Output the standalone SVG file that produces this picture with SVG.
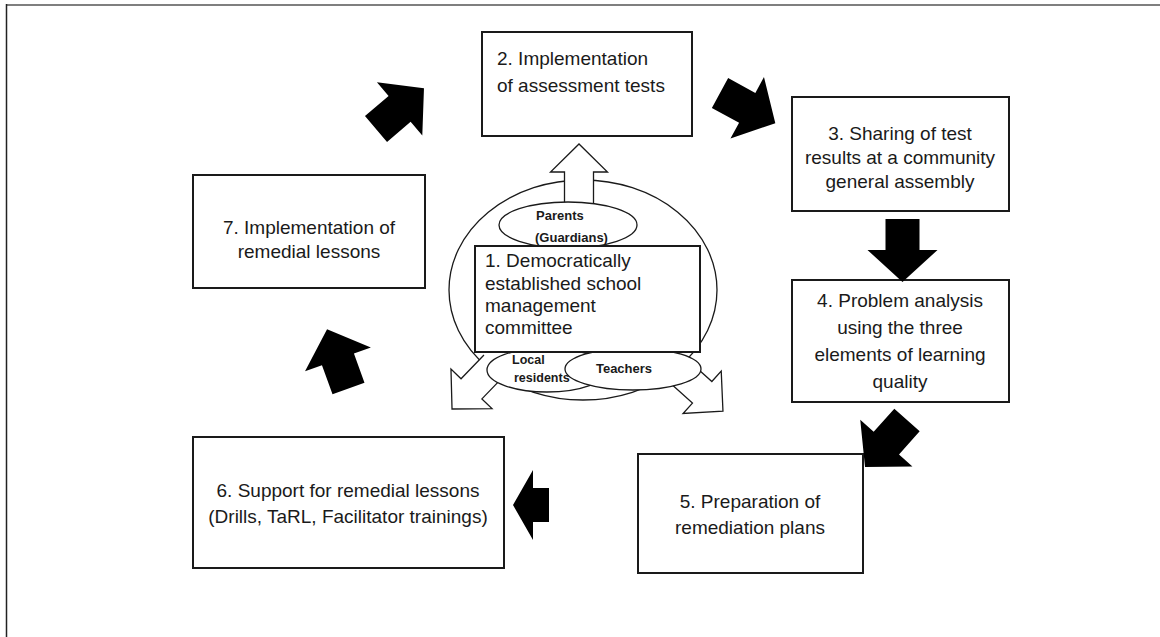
<svg xmlns="http://www.w3.org/2000/svg" width="1160" height="637" viewBox="0 0 1160 637">
  <style>
    .box { fill: #ffffff; stroke: #1a1a1a; stroke-width: 2; }
    .thin { fill: #ffffff; stroke: #1a1a1a; stroke-width: 1.3; }
    .hollow { fill: #ffffff; stroke: #1a1a1a; stroke-width: 1.3; stroke-linejoin: miter; }
    .t { font-family: "Liberation Sans", Arial, sans-serif; font-size: 19px; fill: #1a1a1a; }
    .c { text-anchor: middle; }
    .b { font-family: "Liberation Sans", Arial, sans-serif; font-weight: bold; font-size: 13px; fill: #1a1a1a; }
    .flow { fill: #000000; }
  </style>
  <defs>
    <!-- solid block arrow, tail at origin, pointing along +x -->
    <polygon id="blk" points="0,-17 31,-17 31,-35 63,0 31,35 31,17 0,17"/>
  </defs>

  <rect width="1160" height="637" fill="#ffffff"/>
  <!-- page frame -->
  <line x1="6" y1="5" x2="1160" y2="5" stroke="#7f7f7f" stroke-width="2"/>
  <line x1="6.5" y1="4" x2="6.5" y2="637" stroke="#222222" stroke-width="1.5"/>

  <!-- 1: committee hub -->
  <g id="node-1">
    <ellipse class="thin" cx="583" cy="290" rx="134" ry="110"/>
    <!-- open-tailed outline arrows leaving the hub -->
    <path class="hollow" transform="translate(579,215) rotate(-90)" d="M0,-14.5 L43,-14.5 L43,-28.5 L71,0 L43,28.5 L43,14.5 L0,14.5"/>
    <path class="hollow" transform="translate(494.4,365.1) rotate(134)" d="M0,-14.5 L33,-14.5 L33,-28.5 L61,0 L33,28.5 L33,14.5 L0,14.5"/>
    <path class="hollow" transform="translate(675.4,368.2) rotate(42)" d="M0,-14.5 L36,-14.5 L36,-28.5 L64,0 L36,28.5 L36,14.5 L0,14.5"/>
    <ellipse class="thin" cx="568" cy="225" rx="69" ry="23"/>
    <ellipse class="thin" cx="547" cy="370" rx="60" ry="22"/>
    <ellipse class="thin" cx="633" cy="369" rx="68" ry="21"/>
    <rect class="box" x="475" y="246" width="225" height="106"/>
    <text class="t" x="485"><tspan x="485" y="267">1. Democratically</tspan><tspan x="485" y="290">established school</tspan><tspan x="485" y="312">management</tspan><tspan x="485" y="334">committee</tspan></text>
    <text class="b" x="535"><tspan x="536" y="220">Parents</tspan><tspan x="535" y="242">(Guardians)</tspan></text>
    <text class="b" x="512" style="font-size:12.5px"><tspan x="512" y="364">Local</tspan><tspan x="514" y="382">residents</tspan></text>
    <text class="b c" x="624" y="373">Teachers</text>
  </g>

  <g id="node-2">
    <rect class="box" x="482" y="32" width="210" height="104"/>
    <text class="t"><tspan x="497" y="65">2. Implementation</tspan><tspan x="497" y="92">of assessment tests</tspan></text>
  </g>

  <g id="node-3">
    <rect class="box" x="792" y="97" width="217" height="114"/>
    <text class="t c"><tspan x="900" y="140">3. Sharing of test</tspan><tspan x="900" y="164">results at a community</tspan><tspan x="900" y="188">general assembly</tspan></text>
  </g>

  <g id="node-4">
    <rect class="box" x="792" y="280" width="217" height="122"/>
    <text class="t c"><tspan x="900" y="307">4. Problem analysis</tspan><tspan x="900" y="334">using the three</tspan><tspan x="900" y="361">elements of learning</tspan><tspan x="900" y="388">quality</tspan></text>
  </g>

  <g id="node-5">
    <rect class="box" x="638" y="454" width="225" height="119"/>
    <text class="t c"><tspan x="750" y="508">5. Preparation of</tspan><tspan x="750" y="534">remediation plans</tspan></text>
  </g>

  <g id="node-6">
    <rect class="box" x="193" y="437" width="311" height="131"/>
    <text class="t c"><tspan x="348" y="497">6. Support for remedial lessons</tspan><tspan x="348" y="523">(Drills, TaRL, Facilitator trainings)</tspan></text>
  </g>

  <g id="node-7">
    <rect class="box" x="193" y="175" width="232" height="113"/>
    <text class="t c"><tspan x="309" y="234">7. Implementation of</tspan><tspan x="309" y="258">remedial lessons</tspan></text>
  </g>

  <!-- cycle arrows between the steps -->
  <g id="connectors" class="flow">
    <use href="#blk" transform="translate(376,129) rotate(-40.4)"/>
    <use href="#blk" transform="translate(720,93) rotate(28.6)"/>
    <use href="#blk" transform="translate(902.5,219) rotate(90)"/>
    <use href="#blk" transform="translate(907,420) rotate(131.8)"/>
    <polygon points="549,488 533,488 533,470 513,505 533,540 533,522 549,522"/>
    <use href="#blk" transform="translate(348.5,388.5) rotate(-109.9)"/>
  </g>
</svg>
